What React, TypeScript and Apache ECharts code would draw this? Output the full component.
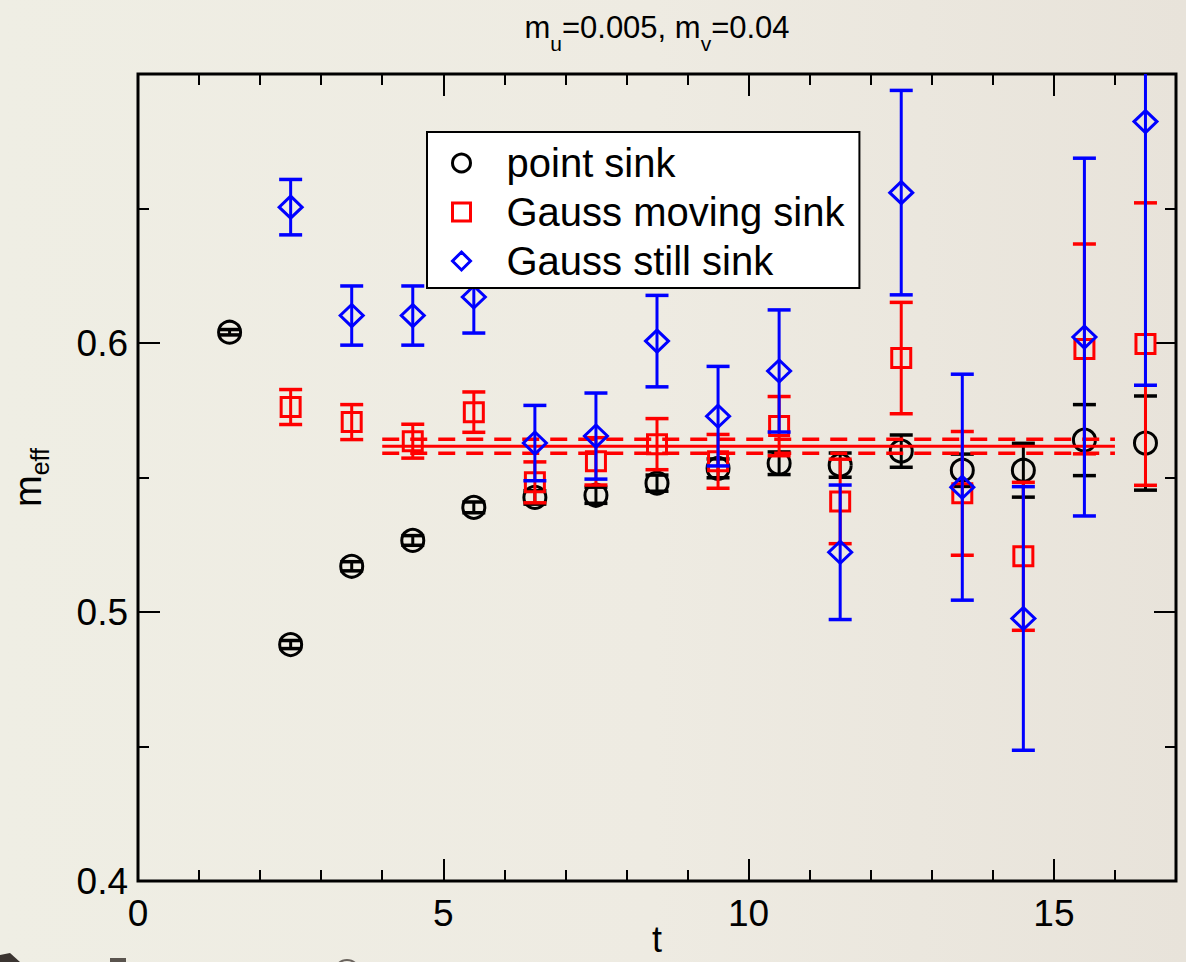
import React, { useEffect, useRef } from "react";
import * as echarts from "echarts";

// ---------- data ----------
const tPoint = [1.5, 2.5, 3.5, 4.5, 5.5, 6.5, 7.5, 8.5, 9.5, 10.5, 11.5, 12.5, 13.5, 14.5, 15.5, 16.5];
const pointSink = [0.604, 0.4879, 0.517, 0.5266, 0.5389, 0.5426, 0.5434, 0.5479, 0.5534, 0.5553, 0.5546, 0.5598, 0.5527, 0.5527, 0.5639, 0.5628];
const pointSinkErr = [0.001, 0.0015, 0.0017, 0.0018, 0.002, 0.0025, 0.003, 0.003, 0.0035, 0.0042, 0.0045, 0.006, 0.006, 0.01, 0.0132, 0.0175];

const tGauss = [2.5, 3.5, 4.5, 5.5, 6.5, 7.5, 8.5, 9.5, 10.5, 11.5, 12.5, 13.5, 14.5, 15.5, 16.5];
const movingSink = [0.5762, 0.5706, 0.5635, 0.5743, 0.5482, 0.556, 0.5624, 0.556, 0.5691, 0.5411, 0.5944, 0.5441, 0.5207, 0.5978, 0.5996];
const movingSinkErr = [0.0065, 0.0065, 0.0063, 0.0075, 0.0076, 0.0088, 0.0095, 0.01, 0.011, 0.0157, 0.0207, 0.023, 0.0275, 0.039, 0.0525];
const stillSink = [0.6505, 0.6102, 0.6102, 0.6171, 0.5628, 0.5654, 0.6007, 0.5728, 0.5896, 0.5222, 0.6559, 0.5464, 0.4976, 0.6022, 0.6823];
const stillSinkErr = [0.0103, 0.011, 0.011, 0.0134, 0.014, 0.016, 0.017, 0.0185, 0.0227, 0.025, 0.038, 0.042, 0.049, 0.0665, 0.098];

const fitRange = [4, 16];
const fitValue = 0.5616;
const fitErr = 0.0026;

const xTickLabels = ["0", "5", "10", "15"];
const yTickLabels = ["0.4", "0.5", "0.6"];

const seriesNames = ["point sink", "Gauss moving sink", "Gauss still sink"];
const titleText = "{a|m}{s|u}{a|=0.005, m}{s|v}{a|=0.04}";

// ---------- styles ----------
const FONT = "'Liberation Sans', Arial, Helvetica, sans-serif";
const BLACK = "#000000";
const RED = "#ff0000";
const BLUE = "#0000ff";

const errRender = (color: string) => (params: any, api: any) => {
  const x = api.value(0);
  const y = api.value(1);
  const e = api.value(2);
  const top = api.coord([x, y + e]);
  const bot = api.coord([x, y - e]);
  const hw = 11.5;
  const st = { stroke: color, lineWidth: 3, fill: "none" };
  const cap = { stroke: color, lineWidth: 3.5, fill: "none" };
  return {
    type: "group",
    children: [
      { type: "line", shape: { x1: top[0], y1: top[1], x2: bot[0], y2: bot[1] }, style: st },
      { type: "line", shape: { x1: top[0] - hw, y1: top[1], x2: top[0] + hw, y2: top[1] }, style: cap },
      { type: "line", shape: { x1: bot[0] - hw, y1: bot[1], x2: bot[0] + hw, y2: bot[1] }, style: cap },
    ],
  };
};

const tickLine = { color: BLACK, width: 2 };

const xAx = (position: string, interval: number, len: number, labels: boolean) => ({
  type: "value",
  position,
  min: 0,
  max: 17,
  interval,
  axisLine: { show: false, onZero: false },
  axisTick: { show: true, inside: true, length: len, lineStyle: tickLine },
  axisLabel: labels
    ? {
        show: true,
        fontSize: 37,
        color: BLACK,
        fontFamily: FONT,
        margin: 14,
        formatter: (v: number) => (xTickLabels.includes(String(v)) ? String(v) : ""),
      }
    : { show: false },
  splitLine: { show: false },
  name: labels ? "t" : "",
  nameLocation: "middle",
  nameGap: 40,
  nameMoveOverlap: false,
  nameTextStyle: { fontSize: 36, color: BLACK, fontFamily: FONT },
});

const yAx = (position: string, labels: boolean) => ({
  type: "value",
  position,
  min: 0.4,
  max: 0.7,
  interval: 0.1,
  axisLine: { show: false, onZero: false },
  axisTick: { show: true, inside: true, length: 22, lineStyle: tickLine },
  minorTick: { show: true, splitNumber: 2, length: 11, lineStyle: tickLine },
  axisLabel: labels
    ? {
        show: true,
        fontSize: 37,
        color: BLACK,
        fontFamily: FONT,
        margin: 10,
        formatter: (v: number) => (yTickLabels.includes(v.toFixed(1)) ? v.toFixed(1) : ""),
      }
    : { show: false },
  splitLine: { show: false },
  minorSplitLine: { show: false },
  name: labels ? "{m|m}{s|eff}" : "",
  nameLocation: "middle",
  nameRotate: 90,
  nameGap: 86,
  nameMoveOverlap: false,
  nameTextStyle: {
    color: BLACK,
    fontFamily: FONT,
    rich: {
      m: { fontSize: 38, color: BLACK, fontFamily: FONT },
      s: { fontSize: 25, color: BLACK, fontFamily: FONT, padding: [24, 0, 0, 0] },
    },
  },
});

export default function App() {
  const ref = useRef<HTMLDivElement>(null);
  useEffect(() => {
    if (!ref.current) return;
    const chart = echarts.init(ref.current, null, { renderer: "svg" });
    const option: any = {
      animation: false,
      backgroundColor: {
        type: "linear",
        x: 0,
        y: 0,
        x2: 1,
        y2: 0,
        colorStops: [
          { offset: 0, color: "#efeee4" },
          { offset: 0.55, color: "#eeebe2" },
          { offset: 1, color: "#e8e3da" },
        ],
      },
      title: {
        text: titleText,
        left: 657,
        textAlign: "center",
        top: 1,
        padding: 0,
        textStyle: {
          fontFamily: FONT,
          fontSize: 31,
          fontWeight: "normal",
          color: BLACK,
          rich: {
            a: { fontSize: 31, fontWeight: "normal", color: BLACK, fontFamily: FONT },
            s: { fontSize: 21, fontWeight: "normal", color: BLACK, fontFamily: FONT, padding: [32, 0, 0, 0] },
          },
        },
      },
      legend: {
        orient: "vertical",
        left: 427,
        top: 132,
        z: 20,
        data: seriesNames,
        itemWidth: 18,
        itemHeight: 18,
        itemGap: 9,
        padding: [11, 15, 7, 24],
        backgroundColor: "#ffffff",
        borderColor: BLACK,
        borderWidth: 2,
        borderRadius: 0,
        selectedMode: false,
        itemStyle: { borderWidth: 3, opacity: 1 },
        textStyle: { fontSize: 40, color: BLACK, fontFamily: FONT, padding: [0, 0, 0, 31] },
      },
      grid: {
        left: 138,
        right: 10,
        top: 74,
        bottom: 81,
        show: true,
        borderColor: BLACK,
        borderWidth: 3,
        backgroundColor: "transparent",
        containLabel: false,
        outerBoundsMode: "none",
      },
      xAxis: [xAx("bottom", 5, 22, true), xAx("top", 5, 22, false), xAx("bottom", 1, 11, false), xAx("top", 1, 11, false)],
      yAxis: [yAx("left", true), yAx("right", false)],
      series: [
        {
          name: "point sink err",
          type: "custom",
          clip: true,
          renderItem: errRender(BLACK),
          encode: { x: 0, y: 1 },
          data: tPoint.map((t, i) => [t, pointSink[i], pointSinkErr[i]]),
          z: 2,
        },
        {
          name: seriesNames[0],
          type: "scatter",
          symbol: "circle",
          symbolSize: 22,
          itemStyle: { color: "rgba(0,0,0,0)", borderColor: BLACK, borderWidth: 3, opacity: 1 },
          data: tPoint.map((t, i) => [t, pointSink[i]]),
          z: 3,
        },
        {
          name: "moving err",
          type: "custom",
          clip: true,
          renderItem: errRender(RED),
          encode: { x: 0, y: 1 },
          data: tGauss.map((t, i) => [t, movingSink[i], movingSinkErr[i]]),
          z: 4,
        },
        {
          name: seriesNames[1],
          type: "scatter",
          symbol: "rect",
          symbolSize: 19,
          itemStyle: { color: "rgba(0,0,0,0)", borderColor: RED, borderWidth: 3, opacity: 1 },
          data: tGauss.map((t, i) => [t, movingSink[i]]),
          z: 5,
        },
        {
          name: "fit",
          type: "line",
          symbol: "none",
          lineStyle: { color: RED, width: 3 },
          data: fitRange.map((t) => [t, fitValue]),
          z: 6,
        },
        {
          name: "fit upper",
          type: "line",
          symbol: "none",
          lineStyle: { color: RED, width: 3.5, type: [17, 11] },
          data: fitRange.map((t) => [t, fitValue + fitErr]),
          z: 6,
        },
        {
          name: "fit lower",
          type: "line",
          symbol: "none",
          lineStyle: { color: RED, width: 3.5, type: [17, 11] },
          data: fitRange.map((t) => [t, fitValue - fitErr]),
          z: 6,
        },
        {
          name: "still err",
          type: "custom",
          clip: true,
          renderItem: errRender(BLUE),
          encode: { x: 0, y: 1 },
          data: tGauss.map((t, i) => [t, stillSink[i], stillSinkErr[i]]),
          z: 7,
        },
        {
          name: seriesNames[2],
          type: "scatter",
          symbol: "diamond",
          symbolSize: [23, 22],
          itemStyle: { color: "rgba(0,0,0,0)", borderColor: BLUE, borderWidth: 3, opacity: 1 },
          data: tGauss.map((t, i) => [t, stillSink[i]]),
          z: 8,
        },
      ],
      graphic: [
        {
          type: "polygon",
          silent: true,
          shape: { points: [[0, 955], [10, 953], [20, 962], [0, 962]] },
          style: { fill: "#3b3531" },
        },
        {
          type: "rect",
          silent: true,
          shape: { x: 110, y: 958, width: 16, height: 4 },
          style: { fill: "#5a544e" },
        },
        {
          type: "arc",
          silent: true,
          shape: { cx: 347, cy: 972, r: 12, startAngle: Math.PI * 1.15, endAngle: Math.PI * 1.85 },
          style: { stroke: "#6a645e", lineWidth: 2, fill: "none" },
        },
      ],
    };
    chart.setOption(option);
    return () => chart.dispose();
  }, []);
  return (
    <div
      ref={ref}
      style={{ position: "fixed", left: 0, top: 0, width: 1186, height: 962 }}
    />
  );
}
